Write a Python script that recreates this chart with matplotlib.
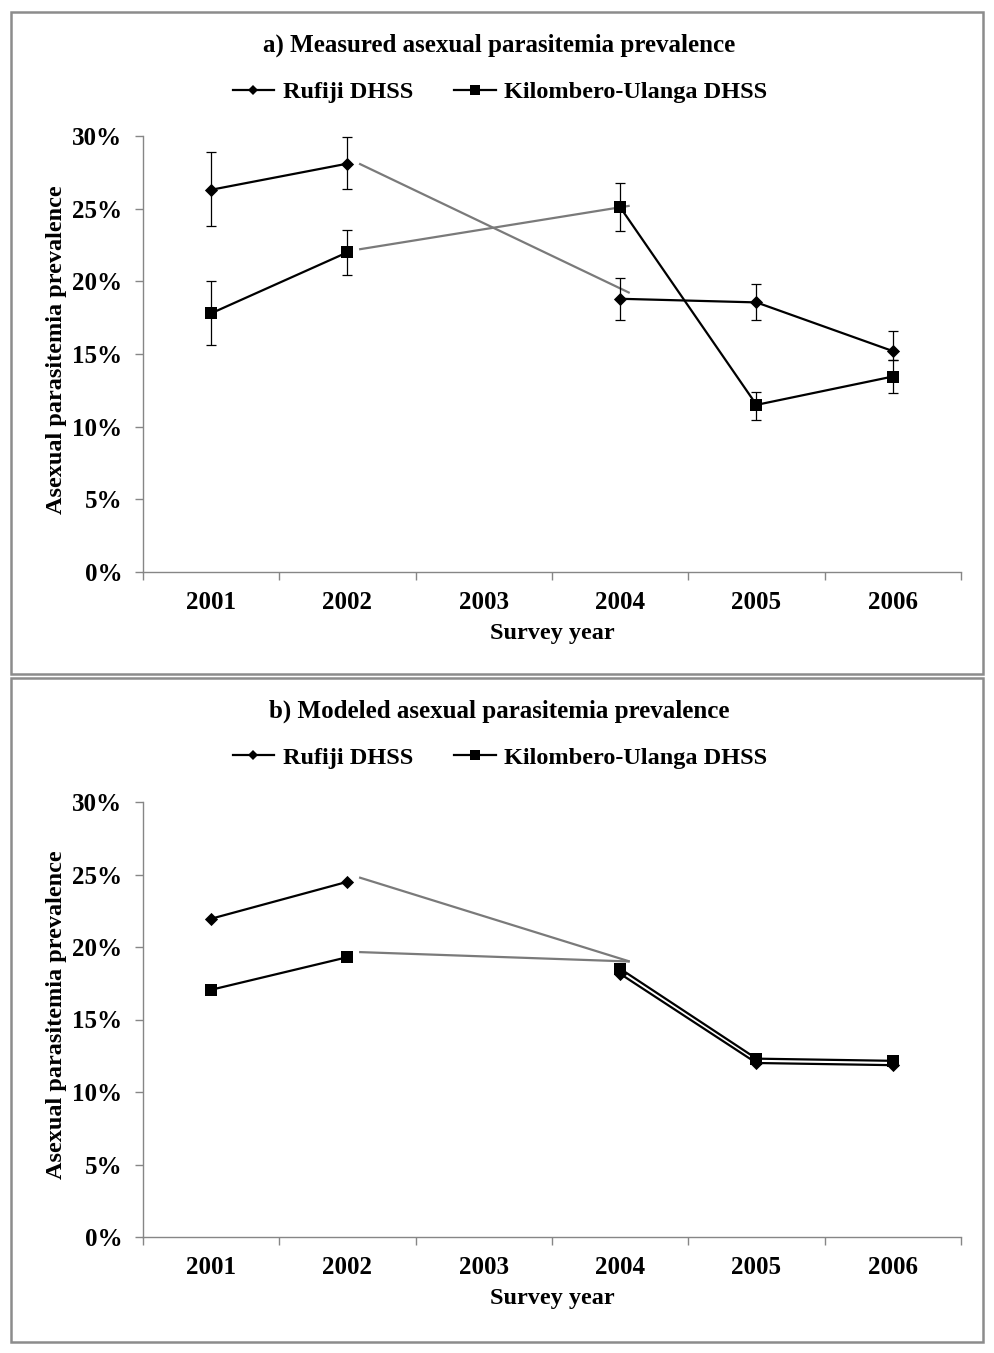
import numpy as np
import matplotlib
matplotlib.use("Agg")
import matplotlib.pyplot as plt
from matplotlib.patches import Rectangle
from matplotlib.ticker import FixedLocator, PercentFormatter

plt.rcParams["font.family"] = ["Liberation Serif", "DejaVu Serif"]
plt.rcParams["font.weight"] = "bold"

# survey years (2003 has no survey)
years = ["2001", "2002", "2003", "2004", "2005", "2006"]

# a) measured prevalence, % (nan = no survey)
rufiji_measured = [26.3, 28.1, np.nan, 18.8, 18.55, 15.2]
rufiji_lo = [23.8, 26.35, np.nan, 17.35, 17.35, 14.6]
rufiji_hi = [28.9, 29.9, np.nan, 20.25, 19.8, 16.55]
kilombero_measured = [17.8, 22.0, np.nan, 25.1, 11.5, 13.45]
kilombero_lo = [15.6, 20.45, np.nan, 23.45, 10.45, 12.35]
kilombero_hi = [20.0, 23.55, np.nan, 26.75, 12.4, 14.6]

# b) modeled prevalence, %
rufiji_modeled = [21.95, 24.5, np.nan, 18.15, 12.0, 11.85]
kilombero_modeled = [17.05, 19.3, np.nan, 18.5, 12.3, 12.15]

# grey hand-drawn bridges across the 2003 gap: (start, end) values, %
bridge_a_rufiji = [28.1, 19.2]
bridge_a_kilombero = [22.2, 25.2]
bridge_b_rufiji = [24.8, 19.0]
bridge_b_kilombero = [19.65, 19.0]

AXIS_GREY = "#868686"
BRIDGE_GREY = "#7a7a7a"
W, H = 995, 1353


def style_axes(ax):
    x = np.arange(len(years))
    ax.set_xlim(-0.5, len(years) - 0.5)
    ax.set_ylim(0, 30)
    ax.set_xticks(x)
    ax.set_xticklabels(years, fontsize=18, fontweight="bold")
    ax.xaxis.set_minor_locator(FixedLocator(np.arange(len(years) + 1) - 0.5))
    ax.tick_params(axis="x", which="major", length=0, pad=14)
    ax.tick_params(axis="x", which="minor", length=6, color=AXIS_GREY, width=1)
    ax.set_yticks(np.arange(0, 31, 5))
    ax.yaxis.set_major_formatter(PercentFormatter(decimals=0))
    ax.tick_params(axis="y", length=6, color=AXIS_GREY, width=1, labelsize=18, pad=9)
    for lbl in ax.get_yticklabels():
        lbl.set_fontweight("bold")
    for side in ["top", "right"]:
        ax.spines[side].set_visible(False)
    for side in ["left", "bottom"]:
        ax.spines[side].set_color(AXIS_GREY)
        ax.spines[side].set_linewidth(1)
    ax.set_xlabel("Survey year", fontsize=17.5, fontweight="bold", labelpad=6)
    ax.set_ylabel("Asexual parasitemia prevalence", fontsize=17.5, fontweight="bold", labelpad=3)
    ax.yaxis.set_label_coords(-0.093, 0.51)


def draw_bridge(ax, vals):
    ax.plot([1.085, 3.07], vals, color=BRIDGE_GREY, lw=1.6, solid_capstyle="butt", zorder=2)


def panel(rect_px, ax_px, title, rufiji, kilombero, bridges, errs=None):
    left, top, right, bottom = ax_px
    ax = fig.add_axes([left / W, 1 - bottom / H, (right - left) / W, (bottom - top) / H])
    x = np.arange(len(years))
    if errs is not None:
        for vals, lo, hi in errs:
            vals = np.array(vals)
            yerr = [vals - np.array(lo), np.array(hi) - vals]
            ax.errorbar(x, vals, yerr=yerr, fmt="none", ecolor="black",
                        elinewidth=0.9, capsize=3.5, capthick=0.9, zorder=3)
    lr, = ax.plot(x, rufiji, color="black", lw=1.6, marker="D", markersize=8,
                  markerfacecolor="black", markeredgewidth=0, zorder=4,
                  label="Rufiji DHSS")
    # narrower diamond like the original
    lr.set_marker((4, 0, 0))
    lr.set_markersize(9.5)
    lk, = ax.plot(x, kilombero, color="black", lw=1.6, marker="s", markersize=8.5,
                  markeredgewidth=0, zorder=4, label="Kilombero-Ulanga DHSS")
    for b in bridges:
        draw_bridge(ax, b)
    style_axes(ax)

    # frame around the panel
    x0, y0, x1, y1 = rect_px
    fig.patches.append(Rectangle((x0 / W, 1 - y1 / H), (x1 - x0) / W, (y1 - y0) / H,
                                 transform=fig.transFigure, fill=False,
                                 edgecolor="#8c8c8c", lw=1.8))
    fig.text(499 / W, 1 - (y0 + 33) / H, title,
             ha="center", va="center", fontsize=18, fontweight="bold")
    h_r = plt.Line2D([], [], color="black", lw=1.6, marker="D", markersize=5.5,
                     markeredgewidth=0)
    h_k = plt.Line2D([], [], color="black", lw=1.6, marker="s", markersize=7,
                     markeredgewidth=0)
    fig.legend([h_r, h_k], ["Rufiji DHSS", "Kilombero-Ulanga DHSS"],
               loc="center", bbox_to_anchor=(500 / W, 1 - (y0 + 80) / H),
               ncol=2, frameon=False, handlelength=1.7,
               handletextpad=0.35, columnspacing=1.7,
               prop={"weight": "bold", "size": 17.5})
    return ax


fig = plt.figure(figsize=(W / 100, H / 100), dpi=100)

panel((11, 12, 983, 674), (143, 136, 961, 572),
      "a) Measured asexual parasitemia prevalence",
      rufiji_measured, kilombero_measured,
      [bridge_a_rufiji, bridge_a_kilombero],
      errs=[(rufiji_measured, rufiji_lo, rufiji_hi),
            (kilombero_measured, kilombero_lo, kilombero_hi)])

panel((11, 678, 983, 1342), (143, 802, 961, 1237),
      "b) Modeled asexual parasitemia prevalence",
      rufiji_modeled, kilombero_modeled,
      [bridge_b_rufiji, bridge_b_kilombero])

fig.savefig("out.png", dpi=100, facecolor="white")
